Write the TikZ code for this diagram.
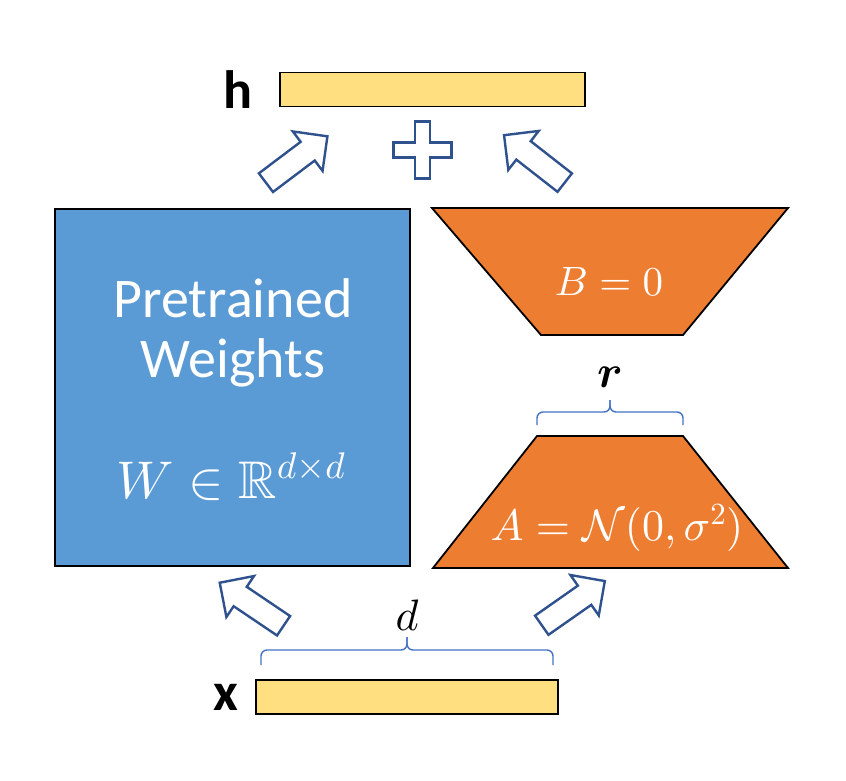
\documentclass[tikz,border=0pt]{standalone}
\usepackage{amsmath, amssymb}
\usepackage{fontspec}
\setsansfont{Carlito}
\DeclareFontShape{OML}{cmm}{m}{it}{<-> cmmi10}{}
\DeclareFontShape{OML}{cmm}{b}{it}{<-> cmmib10}{}
\DeclareFontShape{OMS}{cmsy}{m}{n}{<-> cmsy10}{}
\DeclareFontShape{OMX}{cmex}{m}{n}{<-> cmex10}{}
\DeclareFontShape{OT1}{cmr}{m}{n}{<-> cmr10}{}
\DeclareFontFamily{U}{msb}{}
\DeclareFontShape{U}{msb}{m}{n}{<-> msbm10}{}
\definecolor{LoraBlue}{RGB}{91,155,213}
\definecolor{LoraOrange}{RGB}{237,125,49}
\definecolor{LoraYellow}{RGB}{255,223,128}
\definecolor{ArrowBlue}{RGB}{47,82,143}
\definecolor{BraceBlue}{RGB}{68,114,196}
\usetikzlibrary{shapes.arrows, positioning}

\begin{document}
\begin{tikzpicture}[x=1pt, y=-1pt,
  vecbar/.style={draw=black, line width=1.6pt, fill=LoraYellow, minimum height=34pt, inner sep=0pt},
  veclabel/.style={font=\sffamily\bfseries\fontsize{54}{60}\selectfont, inner sep=0pt},
  lowrank/.style={draw=black, line width=1.8pt, fill=LoraOrange, line join=miter},
  flowarrow/.style={single arrow, draw=ArrowBlue, line width=2.4pt, fill=white, inner sep=0pt, inner ysep=10.5pt,
    single arrow head extend=13pt, minimum height=77pt},
  bracket/.style={draw=BraceBlue, line width=1.4pt, rounded corners=6pt},
  whitetext/.style={text=white, inner sep=0pt, anchor=base}
]
\useasboundingbox (0,0) rectangle (846,780);

% input and output vectors
\node[vecbar, minimum width=305pt] (hbar) at (432.5,89.5) {};
\node[veclabel, left=27pt of hbar] (hlab) {h};
\node[vecbar, minimum width=302pt] (xbar) at (407,697) {};
\node[veclabel, left=17pt of xbar] (xlab) {x};

% frozen weights
\node[draw=black, line width=1.6pt, fill=LoraBlue, minimum width=355pt, minimum height=357pt, inner sep=0pt] (wbox) at (232.5,387.5) {};
\node[whitetext, font=\sffamily\fontsize{56}{60}\selectfont] (pre) at (233,317) {Pretrained};
\node[whitetext, font=\sffamily\fontsize{56}{60}\selectfont] (wts) at (233,377) {Weights};
\node[whitetext, font=\fontsize{53}{58}\selectfont] (wdim) at (231,498) {$W \in \mathbb{R}^{d\times d}$};

% low-rank matrices
\coordinate (b1) at (432,208);
\coordinate (b2) at (788,208);
\coordinate (b3) at (683,335);
\coordinate (b4) at (541,335);
\draw[lowrank] (b1) -- (b2) -- (b3) -- (b4) -- cycle;
\node[whitetext, font=\fontsize{41}{48}\selectfont] (blab) at (609,295) {$B = 0$};
\coordinate (a1) at (537,436);
\coordinate (a2) at (683,436);
\coordinate (a3) at (788,568);
\coordinate (a4) at (433,568);
\draw[lowrank] (a1) -- (a2) -- (a3) -- (a4) -- cycle;
\node[whitetext, font=\fontsize{44}{50}\selectfont] (alab) at (617,540) {$A = \mathcal{N}(0,\sigma^2)$};

% braces
\coordinate (rl) at (537,425);
\coordinate (rr) at (683,425);
\coordinate (rm) at (610,412);
\coordinate (rtip) at (610,400);
\draw[bracket] (rl) |- (rm) -- (rtip);
\draw[bracket] (rr) |- (rm) -- (rtip);
\node[anchor=base, inner sep=0pt, font=\fontsize{46}{50}\selectfont] (rlab) at (610,387) {$\boldsymbol{r}$};

\coordinate (dl) at (261,665);
\coordinate (dr) at (553,665);
\coordinate (dm) at (407,650);
\coordinate (dtip) at (407,637);
\draw[bracket] (dl) |- (dm) -- (dtip);
\draw[bracket] (dr) |- (dm) -- (dtip);
\node[anchor=base, inner sep=0pt, font=\fontsize{44}{50}\selectfont] (dlab) at (407,630) {$d$};

% block arrows
\node[flowarrow, rotate=37] (upl) at (292,163) {};
\node[flowarrow, rotate=142] (upr) at (539,162.5) {};
\node[flowarrow, rotate=146] (inl) at (256.5,607.5) {};
\node[flowarrow, rotate=35] (inr) at (568.5,606.5) {};

% plus sign
\coordinate (plus) at (422.5,150);
\draw[draw=ArrowBlue, line width=2.4pt, fill=white]
  (plus) ++(-7.5,-28.5) -- ++(15,0) -- ++(0,21) -- ++(21.5,0) -- ++(0,15) -- ++(-21.5,0)
  -- ++(0,21) -- ++(-15,0) -- ++(0,-21) -- ++(-21.5,0) -- ++(0,-15) -- ++(21.5,0) -- cycle;
\end{tikzpicture}
\end{document}
